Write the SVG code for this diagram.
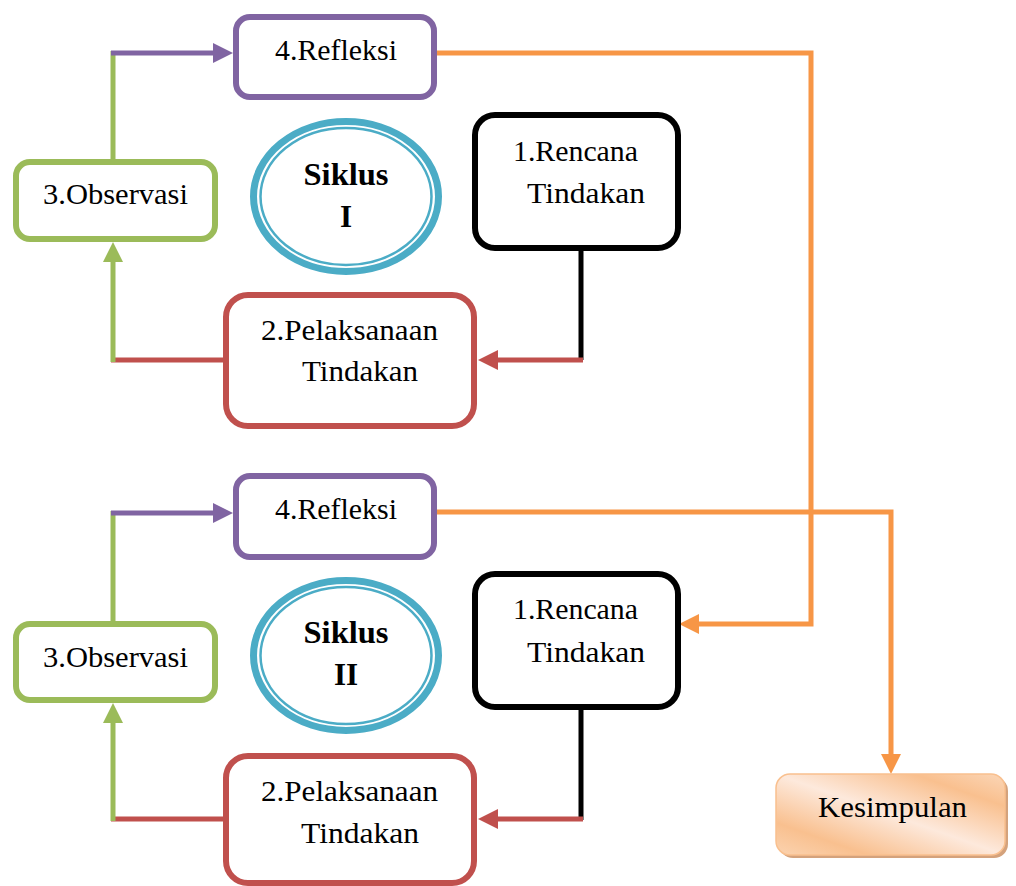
<svg xmlns="http://www.w3.org/2000/svg" width="1016" height="886" viewBox="0 0 1016 886">
<style>
.t{font-family:"Liberation Serif","Times New Roman",serif;font-size:29px;fill:#000;text-anchor:middle}
.b{font-weight:bold;font-size:31px}
.box{fill:#fff;stroke-width:6}
.pur{stroke:#8064a2}.grn{stroke:#9bbb59}.red{stroke:#c0504d}.blk{stroke:#000}
.ln{fill:none;stroke-width:5}
.ring1{fill:#fff;stroke:#4bacc6;stroke-width:7}
.ring2{fill:none;stroke:#4bacc6;stroke-width:2.5}
</style>
<defs>
<marker id="aP" markerUnits="userSpaceOnUse" markerWidth="20" markerHeight="20" refX="0" refY="10" orient="auto"><path d="M0,0 L20,10 L0,20 z" fill="#8064a2"/></marker>
<marker id="aG" markerUnits="userSpaceOnUse" markerWidth="20" markerHeight="20" refX="0" refY="10" orient="auto"><path d="M0,0 L20,10 L0,20 z" fill="#9bbb59"/></marker>
<marker id="aR" markerUnits="userSpaceOnUse" markerWidth="20" markerHeight="20" refX="0" refY="10" orient="auto"><path d="M0,0 L20,10 L0,20 z" fill="#c0504d"/></marker>
<marker id="aO" markerUnits="userSpaceOnUse" markerWidth="20" markerHeight="20" refX="0" refY="10" orient="auto"><path d="M0,0 L20,10 L0,20 z" fill="#f79646"/></marker>
<linearGradient id="kg" x1="0" y1="1" x2="1" y2="0">
<stop offset="0" stop-color="#fbd3b0"/>
<stop offset="0.2" stop-color="#f9c08f"/>
<stop offset="0.5" stop-color="#fde9dc"/>
<stop offset="0.8" stop-color="#f9c08f"/>
<stop offset="1" stop-color="#fbd6b7"/>
</linearGradient>
</defs>

<g id="connectors">
<!-- Cycle I -->
<path class="ln blk" d="M581,251 V360"/>
<path class="ln red" d="M583,360 H498" marker-end="url(#aR)"/>
<path class="ln red" d="M223,360 H111"/>
<path class="ln grn" d="M113,362 V262" marker-end="url(#aG)"/>
<path class="ln grn" d="M113,159 V51"/>
<path class="ln pur" d="M111,53 H213" marker-end="url(#aP)"/>
<path class="ln" stroke="#f79646" d="M437,53 H811 V624 H699" marker-end="url(#aO)"/>
<!-- Cycle II -->
<path class="ln blk" d="M581,710 V820"/>
<path class="ln red" d="M583,819 H498" marker-end="url(#aR)"/>
<path class="ln red" d="M223,819 H111"/>
<path class="ln grn" d="M113,821 V723" marker-end="url(#aG)"/>
<path class="ln grn" d="M113,621 V511"/>
<path class="ln pur" d="M111,513 H213" marker-end="url(#aP)"/>
<path class="ln" stroke="#f79646" d="M437,512 H891 V754" marker-end="url(#aO)"/>
</g>

<g id="refleksi1"><rect class="box pur" x="236" y="17" width="198" height="80" rx="14"/><text class="t" x="336" y="60" textLength="122" lengthAdjust="spacingAndGlyphs">4.Refleksi</text></g>
<g id="observasi1"><rect class="box grn" x="16" y="162" width="199" height="77" rx="14"/><text class="t" x="115.5" y="204" textLength="145" lengthAdjust="spacingAndGlyphs">3.Observasi</text></g>
<g id="siklus1"><ellipse class="ring1" cx="346" cy="196.5" rx="92.5" ry="75"/><ellipse class="ring2" cx="346" cy="196.5" rx="85.5" ry="68.5"/><text class="t b" x="346" y="185" textLength="85" lengthAdjust="spacingAndGlyphs">Siklus</text><text class="t b" x="346" y="227">I</text></g>
<g id="rencana1"><rect class="box blk" x="475" y="115" width="203" height="133" rx="20"/><text class="t" x="575.5" y="161" textLength="125" lengthAdjust="spacingAndGlyphs">1.Rencana</text><text class="t" x="586" y="203" textLength="118" lengthAdjust="spacingAndGlyphs">Tindakan</text></g>
<g id="pelaksanaan1"><rect class="box red" x="226" y="295" width="248" height="131" rx="22"/><text class="t" x="349.5" y="340" textLength="177" lengthAdjust="spacingAndGlyphs">2.Pelaksanaan</text><text class="t" x="360" y="381" textLength="116" lengthAdjust="spacingAndGlyphs">Tindakan</text></g>

<g id="refleksi2"><rect class="box pur" x="236" y="476" width="198" height="81" rx="14"/><text class="t" x="336" y="519" textLength="122" lengthAdjust="spacingAndGlyphs">4.Refleksi</text></g>
<g id="observasi2"><rect class="box grn" x="16" y="624" width="199" height="76" rx="14"/><text class="t" x="115.5" y="667" textLength="145" lengthAdjust="spacingAndGlyphs">3.Observasi</text></g>
<g id="siklus2"><ellipse class="ring1" cx="346" cy="655.5" rx="92.5" ry="75"/><ellipse class="ring2" cx="346" cy="655.5" rx="85.5" ry="68.5"/><text class="t b" x="346" y="643" textLength="85" lengthAdjust="spacingAndGlyphs">Siklus</text><text class="t b" x="346" y="685">II</text></g>
<g id="rencana2"><rect class="box blk" x="475" y="574" width="203" height="133" rx="20"/><text class="t" x="575.5" y="619" textLength="125" lengthAdjust="spacingAndGlyphs">1.Rencana</text><text class="t" x="586" y="662" textLength="118" lengthAdjust="spacingAndGlyphs">Tindakan</text></g>
<g id="pelaksanaan2"><rect class="box red" x="226" y="756" width="248" height="127" rx="22"/><text class="t" x="349.5" y="801" textLength="177" lengthAdjust="spacingAndGlyphs">2.Pelaksanaan</text><text class="t" x="360" y="843" textLength="118" lengthAdjust="spacingAndGlyphs">Tindakan</text></g>

<g id="kesimpulan"><rect x="779" y="777" width="229" height="81" rx="14" fill="#d4a27c"/><rect x="776" y="774" width="229" height="81" rx="14" fill="url(#kg)" stroke="#f9c08f" stroke-width="1.5"/><text class="t" x="892.5" y="817" textLength="149" lengthAdjust="spacingAndGlyphs">Kesimpulan</text></g>
</svg>
